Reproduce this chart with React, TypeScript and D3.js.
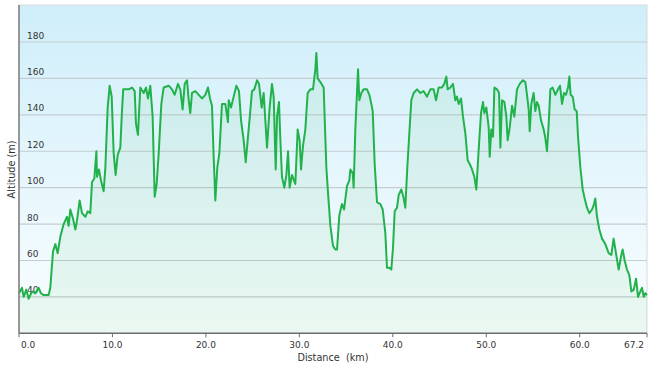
import * as d3 from 'd3';

// elevation profile (km, m)
const distanceKm = [
  0, 0.32, 0.5, 0.78, 1.03, 1.39, 1.75, 2.1, 2.35, 2.64, 3.17, 3.35, 3.64, 3.89, 4.14, 4.42, 4.78, 5.14, 5.31, 5.49,
  5.78, 6.03, 6.21, 6.49, 6.74, 7.1, 7.35, 7.63, 7.81, 8.06, 8.28, 8.35, 8.56, 8.77, 9.06, 9.24, 9.49, 9.7, 9.92, 10.13,
  10.34, 10.56, 10.84, 11.0, 11.15, 11.31, 11.74, 12.09, 12.38, 12.52, 12.73, 12.98, 13.34, 13.59, 13.8, 14.05, 14.3, 14.52, 14.73, 14.95,
  15.23, 15.48, 16.02, 16.37, 16.66, 17.01, 17.26, 17.51, 17.73, 17.98, 18.16, 18.33, 18.51, 18.87, 19.23, 19.58, 19.94, 20.22, 20.44, 20.65,
  20.83, 21.01, 21.22, 21.44, 21.72, 22.08, 22.36, 22.44, 22.69, 22.97, 23.26, 23.54, 23.76, 24.04, 24.26, 24.47, 24.68, 24.93, 25.18, 25.47,
  25.68, 25.97, 26.18, 26.36, 26.54, 26.82, 27.07, 27.25, 27.47, 27.61, 27.82, 27.97, 28.14, 28.39, 28.61, 28.79, 28.96, 29.21, 29.57, 29.82,
  30.03, 30.18, 30.39, 30.64, 30.89, 31.18, 31.46, 31.71, 31.82, 31.96, 32.25, 32.6, 32.89, 33.07, 33.32, 33.6, 33.85, 34.03, 34.28, 34.56,
  34.78, 35.1, 35.35, 35.46, 35.71, 35.81, 35.99, 36.28, 36.42, 36.63, 36.88, 37.24, 37.49, 37.7, 37.85, 38.06, 38.31, 38.67, 38.92, 39.2,
  39.38, 39.63, 39.84, 40.02, 40.2, 40.45, 40.63, 40.91, 41.13, 41.34, 41.55, 41.77, 41.98, 42.23, 42.59, 42.95, 43.3, 43.66, 44.02, 44.37,
  44.62, 44.91, 45.26, 45.51, 45.73, 45.87, 46.16, 46.44, 46.69, 46.87, 47.05, 47.3, 47.51, 47.76, 48.01, 48.23, 48.48, 48.72, 48.94, 49.19,
  49.44, 49.65, 49.8, 50.01, 50.26, 50.37, 50.54, 50.72, 50.87, 51.15, 51.37, 51.51, 51.69, 51.94, 52.15, 52.29, 52.51, 52.76, 53.0, 53.29,
  53.58, 53.93, 54.18, 54.36, 54.54, 54.65, 54.82, 55.07, 55.25, 55.43, 55.61, 55.86, 56.14, 56.3, 56.5, 56.68, 56.86, 57.1, 57.39, 57.68,
  57.89, 58.11, 58.32, 58.53, 58.75, 58.89, 59.03, 59.25, 59.46, 59.68, 59.82, 60.07, 60.32, 60.53, 60.78, 61.03, 61.32, 61.53, 61.67, 61.85,
  62.1, 62.39, 62.74, 63.1, 63.38, 63.63, 63.88, 64.17, 64.45, 64.6, 64.81, 65.06, 65.31, 65.53, 65.78, 66.03, 66.24, 66.49, 66.67, 66.85,
  67.02, 67.2,
];
const altitudeM = [
  42, 45, 40, 44, 39, 43, 42, 45, 42, 41, 41, 45, 65, 69, 64, 73, 80, 84, 79, 88,
  83, 77, 82, 93, 86, 84, 87, 86, 103, 105, 120, 106, 110, 104, 98, 111, 144, 156, 150, 119,
  107, 118, 122, 140, 154, 154, 154, 155, 153, 135, 129, 155, 152, 155, 149, 156, 139, 95, 102, 119,
  146, 155, 156, 154, 151, 157, 154, 143, 157, 159, 148, 141, 152, 153, 151, 149, 151, 155, 149, 145,
  117, 93, 111, 119, 146, 146, 136, 148, 144, 150, 156, 153, 137, 126, 114, 126, 138, 153, 154, 159,
  157, 144, 152, 137, 122, 144, 157, 150, 110, 139, 147, 126, 106, 100, 107, 120, 100, 107, 102, 132,
  126, 110, 123, 132, 152, 154, 154, 165, 174, 160, 158, 155, 111, 97, 79, 68, 66, 66, 85, 91,
  88, 101, 104, 110, 108, 100, 132, 165, 148, 152, 154, 154, 151, 146, 142, 113, 92, 91, 88, 75,
  56, 56, 55, 67, 87, 89, 96, 99, 95, 89, 111, 130, 148, 152, 154, 152, 153, 150, 154, 154,
  148, 155, 155, 157, 161, 154, 155, 157, 148, 150, 146, 149, 139, 130, 115, 113, 110, 106, 99, 121,
  141, 147, 141, 144, 133, 117, 132, 128, 155, 154, 152, 122, 148, 147, 139, 126, 133, 145, 139, 154,
  157, 159, 158, 151, 143, 131, 146, 152, 142, 147, 145, 137, 132, 128, 120, 135, 154, 155, 151, 154,
  156, 146, 152, 151, 155, 161, 151, 150, 143, 142, 128, 111, 99, 94, 89, 86, 88, 91, 94, 84,
  77, 72, 69, 64, 63, 72, 64, 55, 63, 66, 60, 55, 52, 43, 44, 50, 40, 43, 45, 40,
  42, 41,
];

const xTicks = [0, 10, 20, 30, 40, 50, 60, 67.2];
const yTicks = [40, 60, 80, 100, 120, 140, 160, 180];

const W = 650;
const H = 369;
const left = 19;
const right = 647;
const top = 5.6;
const bottom = 333.3;
const font = "'DejaVu Sans', Verdana, sans-serif";

export default function App() {
  const x = d3.scaleLinear().domain([0, 67.2]).range([left, right]);
  const y = d3.scaleLinear().domain([20, 200]).range([bottom, top]);

  const pts = distanceKm.map((d, i) => ({ d, a: altitudeM[i] }));
  const line = d3.line<{ d: number; a: number }>().x((p) => x(p.d)).y((p) => y(p.a));
  const area = d3.area<{ d: number; a: number }>().x((p) => x(p.d)).y0(bottom).y1((p) => y(p.a));

  return (
    <svg width={W} height={H} style={{ position: 'absolute', left: 0, top: 0, background: '#fff' }}>
      <defs>
        <linearGradient id="bg" x1="0" y1="0" x2="0" y2="1">
          <stop offset="0%" stopColor="#cfeefa" />
          <stop offset="100%" stopColor="#fbfeff" />
        </linearGradient>
      </defs>
      <rect x={left} y={top - 0.6} width={right - left} height={bottom - top + 0.6} fill="url(#bg)" stroke="#d6dadd" />

      {yTicks.map((t) => (
        <line key={t} x1={left} x2={right} y1={y(t)} y2={y(t)} stroke="#c5cdd1" strokeWidth={1.2} />
      ))}
      {yTicks.map((t) => (
        <text key={'l' + t} x={27} y={y(t) - 3.5} fontFamily={font} fontSize={9} fill="#333">{t}</text>
      ))}

      <path d={area(pts) ?? ''} fill="#2db34a" fillOpacity={0.08} />
      <path d={line(pts) ?? ''} fill="none" stroke="#22b24c" strokeWidth={2} strokeLinejoin="round" />

      <line x1={left} x2={left} y1={top - 0.6} y2={bottom} stroke="#7d7d7d" strokeWidth={1.5} />
      <line x1={left} x2={right} y1={bottom} y2={bottom} stroke="#6e6e6e" strokeWidth={1.5} />
      {xTicks.map((t, i) => (
        <g key={t}>
          <line x1={x(t)} x2={x(t)} y1={bottom} y2={bottom + 4} stroke="#6e6e6e" />
          <text
            x={i === 0 ? x(t) + 2 : i === xTicks.length - 1 ? x(t) - 3 : x(t)}
            y={348.3}
            textAnchor={i === 0 ? 'start' : i === xTicks.length - 1 ? 'end' : 'middle'}
            fontFamily={font}
            fontSize={9}
            fill="#333"
          >
            {t.toFixed(1)}
          </text>
        </g>
      ))}

      <text x={(left + right) / 2} y={360.5} textAnchor="middle" fontFamily={font} fontSize={9.7} fill="#333">
        Distance{'\u00a0\u00a0'}(km)
      </text>
      <text
        transform={`translate(14.5,${(top + bottom) / 2}) rotate(-90)`}
        textAnchor="middle"
        fontFamily={font}
        fontSize={9.7}
        fill="#333"
      >
        Altitude (m)
      </text>
    </svg>
  );
}
